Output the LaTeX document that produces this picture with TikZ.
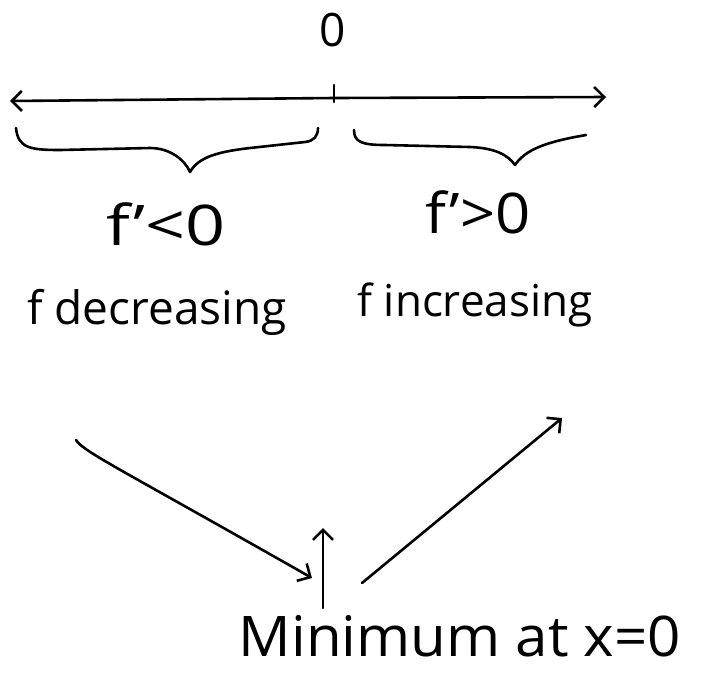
\documentclass[tikz,border=0pt]{standalone}
\usepackage{fontspec}
\setmainfont{Open Sans}
\usetikzlibrary{arrows.meta}
\begin{document}
\begin{tikzpicture}[x=1pt,y=-1pt, line width=2.6pt, line cap=round, line join=round,
  tipped/.style={-{Straight Barb[length=10pt,width=20pt,line width=2.6pt]}},
  hand/.style={inner sep=0pt, font=\fontsize{44}{48}\selectfont}]
\useasboundingbox (0,0) rectangle (706,673);
% number line
\node[inner sep=0pt, font=\fontsize{46}{48}\selectfont] (zero) at (333,30) {0};
\coordinate (O) at (334,98);
\coordinate (L) at (10,101);
\coordinate (R) at (606,97);
\coordinate (tickT) at (334,85);
\coordinate (tickB) at (334,102);
\draw[tipped] (O) -- (L);
\draw[tipped] (O) -- (R);
\draw (tickT) -- (tickB);
% braces
\coordinate (b1a) at (16,128);
\coordinate (b1tip) at (190,172);
\coordinate (b1b) at (318,128);
\draw (b1a) .. controls (18,148) and (30,150) .. (60,150)
      -- (150,148) .. controls (170,148) and (185,160) .. (b1tip)
      .. controls (198,158) and (215,152) .. (250,148)
      -- (305,142) .. controls (314,141) and (318,136) .. (b1b);
\coordinate (b2a) at (354,130);
\coordinate (b2tip) at (515,165);
\coordinate (b2b) at (586,135);
\draw (b2a) .. controls (354,142) and (362,145) .. (385,145)
      -- (470,147) .. controls (495,148) and (508,155) .. (b2tip)
      .. controls (525,150) and (545,142) .. (b2b);
% labels
\node[hand, font=\fontsize{56}{60}\selectfont, xscale=1.25] (fneg) at (166,224) {f'<0};
\node[hand, font=\fontsize{56}{60}\selectfont, xscale=1.1] (fpos) at (478,212) {f'>0};
\node[hand, font=\fontsize{46}{48}\selectfont] (dec) at (157,312) {f decreasing};
\node[hand, font=\fontsize{44}{48}\selectfont] (inc) at (475,305) {f increasing};
% arrows
\coordinate (a1s) at (76,440);
\coordinate (a1e) at (312,578);
\draw[tipped] (a1s) .. controls (84,452) and (115,466) .. (a1e);
\coordinate (a2s) at (362,583);
\coordinate (a2e) at (562,418);
\draw[tipped] (a2s) -- (a2e);
\coordinate (ups) at (323,608);
\coordinate (upe) at (323,528);
\draw[tipped] (ups) -- (upe);
\node[hand, font=\fontsize{56}{60}\selectfont, xscale=1.04] (min) at (460,636) {Minimum at x=0};
\end{tikzpicture}
\end{document}
